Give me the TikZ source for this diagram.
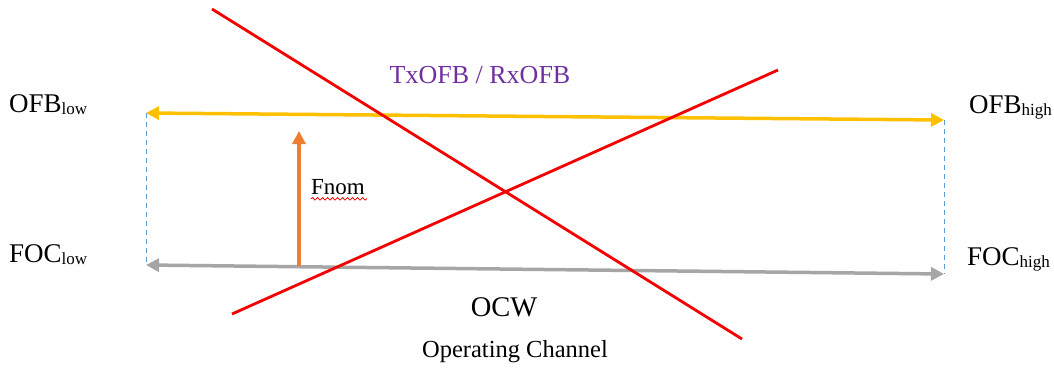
\documentclass[tikz,border=0pt]{standalone}
\usepackage{fontspec}
\setmainfont{Liberation Serif}
\usetikzlibrary{arrows.meta,decorations.pathmorphing}

\definecolor{bandyellow}{RGB}{255,192,0}
\definecolor{chgray}{RGB}{166,166,166}
\definecolor{nomorange}{RGB}{237,125,49}
\definecolor{edgeblue}{RGB}{91,155,213}
\definecolor{crossred}{RGB}{245,0,0}
\definecolor{titlepurple}{RGB}{112,48,160}

\newcommand{\sublbl}[1]{\raisebox{-2pt}{\fontsize{17}{17}\selectfont #1}}

\tikzset{
  edgelbl/.style={anchor=base west, inner sep=0pt, font=\fontsize{27}{27}\selectfont},
  band/.style={line width=3.5pt, -{Triangle[length=13pt,width=13pt]}},
  edgeline/.style={edgeblue, dashed, line width=0.9pt, dash pattern=on 5pt off 4pt},
  cross/.style={crossred, line width=2.8pt}
}

\begin{document}
\begin{tikzpicture}[x=1pt,y=-1pt]
  \useasboundingbox (0,0) rectangle (1054,368);

  % Edge labels
  \node[edgelbl] (ofblow) at (9,112) {OFB\sublbl{low}};
  \node[edgelbl] (foclow) at (9,262) {FOC\sublbl{low}};
  \node[edgelbl] (ofbhigh) at (969,113) {OFB\sublbl{high}};
  \node[edgelbl] (fochigh) at (967,265) {FOC\sublbl{high}};

  % Band end points
  \coordinate (bl) at (146,113);
  \coordinate (br) at (944,120);
  \coordinate (cl) at (146,265);
  \coordinate (cr) at (944,274);

  % Dashed band edges
  \draw[edgeline] (bl) -- (cl);
  \draw[edgeline] (br) -- (cr);

  % Bands
  \draw[band, bandyellow, {Triangle[length=13pt,width=13pt]}-{Triangle[length=13pt,width=13pt]}] (bl) -- (br);
  \draw[band, chgray, {Triangle[length=13pt,width=13pt]}-{Triangle[length=13pt,width=13pt]}] (cl) -- (cr);

  % Nominal frequency
  \coordinate (nomfoot) at (299,266);
  \coordinate (nomtip) at (299,131);
  \draw[band, nomorange] (nomfoot) -- (nomtip);
  \node[font=\fontsize{23}{23}\selectfont, inner sep=0pt] (fnom) at (338,187) {Fnom};
  \draw[crossred, line width=0.8pt, decorate,
    decoration={snake, amplitude=1.3pt, segment length=5pt}] (fnom.south west) ++(0,4) -- ++(56,0);

  % Titles
  \node[text=titlepurple, font=\fontsize{26}{26}\selectfont] (txrx) at (480,75) {TxOFB / RxOFB};
  \node[font=\fontsize{28.5}{28.5}\selectfont] (ocw) at (504,307) {OCW};
  \node[font=\fontsize{24.5}{24.5}\selectfont] (opch) at (515,352) {Operating Channel};

  % Crossed out
  \coordinate (xa) at (212,9);
  \coordinate (xb) at (742,339);
  \coordinate (xc) at (232,314);
  \coordinate (xd) at (778,70);
  \draw[cross] (xa) -- (xb);
  \draw[cross] (xc) -- (xd);
\end{tikzpicture}
\end{document}
